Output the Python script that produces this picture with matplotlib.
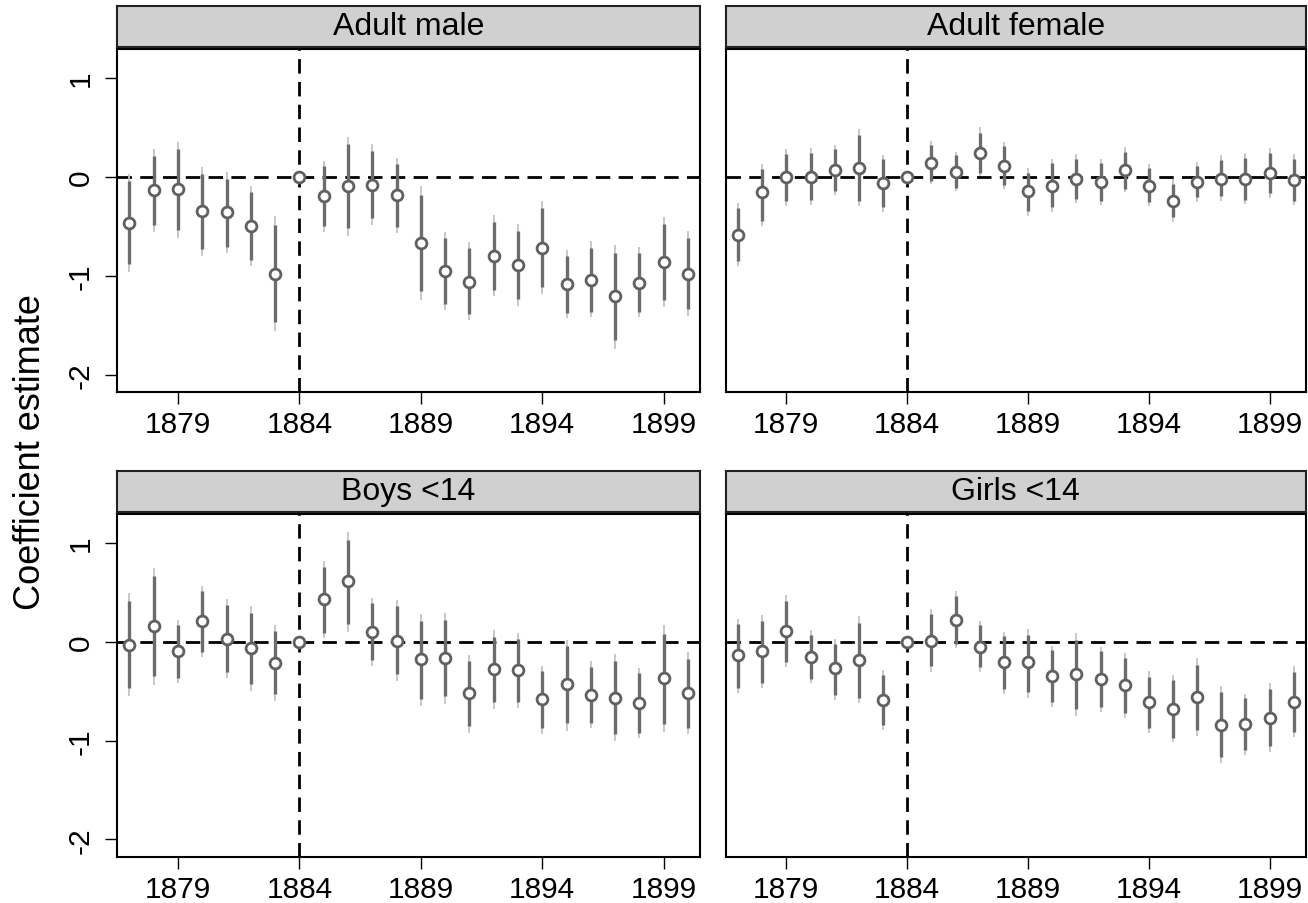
import numpy as np
import matplotlib
matplotlib.use("Agg")
import matplotlib.pyplot as plt

plt.rcParams['font.family'] = ['Liberation Sans', 'DejaVu Sans']
plt.rcParams['axes.unicode_minus'] = False

years = list(range(1877, 1901))
nan = np.nan

# point estimates, thick band (inner CI) and thin band (outer CI); 1884 is the base year
male_est = [-0.47, -0.14, -0.13, -0.35, -0.36, -0.50, -0.98, 0.0, -0.20, -0.09, -0.08, -0.19,
            -0.67, -0.95, -1.06, -0.80, -0.89, -0.72, -1.09, -1.04, -1.21, -1.07, -0.86, -0.98]
male_lo = [-0.88, -0.49, -0.54, -0.73, -0.71, -0.84, -1.47, nan, -0.50, -0.52, -0.42, -0.51,
           -1.16, -1.29, -1.39, -1.15, -1.24, -1.12, -1.38, -1.37, -1.65, -1.37, -1.25, -1.34]
male_hi = [-0.04, 0.21, 0.28, 0.03, -0.02, -0.16, -0.49, nan, 0.11, 0.33, 0.26, 0.13,
           -0.19, -0.62, -0.72, -0.46, -0.55, -0.32, -0.80, -0.72, -0.77, -0.77, -0.48, -0.62]
male_lo95 = [-0.96, -0.56, -0.62, -0.80, -0.77, -0.90, -1.56, nan, -0.56, -0.60, -0.49, -0.57,
             -1.25, -1.35, -1.45, -1.21, -1.31, -1.19, -1.43, -1.42, -1.74, -1.42, -1.32, -1.41]
male_hi95 = [0.03, 0.28, 0.35, 0.10, 0.05, -0.09, -0.40, nan, 0.16, 0.40, 0.33, 0.19,
             -0.09, -0.56, -0.66, -0.39, -0.48, -0.25, -0.74, -0.65, -0.69, -0.71, -0.41, -0.55]

female_est = [-0.59, -0.16, 0.00, 0.00, 0.07, 0.09, -0.06, 0.0, 0.14, 0.05, 0.24, 0.11,
              -0.15, -0.09, -0.02, -0.05, 0.07, -0.09, -0.25, -0.05, -0.02, -0.02, 0.04, -0.03]
female_lo = [-0.85, -0.45, -0.25, -0.24, -0.15, -0.25, -0.31, nan, -0.04, -0.11, 0.04, -0.08,
             -0.35, -0.31, -0.23, -0.25, -0.12, -0.26, -0.41, -0.21, -0.20, -0.24, -0.17, -0.25]
female_hi = [-0.32, 0.08, 0.23, 0.24, 0.28, 0.42, 0.18, nan, 0.32, 0.22, 0.44, 0.31,
             0.04, 0.14, 0.18, 0.14, 0.25, 0.09, -0.07, 0.11, 0.17, 0.19, 0.24, 0.18]
female_lo95 = [-0.90, -0.50, -0.30, -0.29, -0.19, -0.30, -0.36, nan, -0.07, -0.15, 0.01, -0.13,
               -0.40, -0.36, -0.27, -0.29, -0.16, -0.30, -0.46, -0.26, -0.25, -0.28, -0.22, -0.29]
female_hi95 = [-0.27, 0.13, 0.28, 0.29, 0.32, 0.48, 0.22, nan, 0.36, 0.25, 0.50, 0.35,
               0.09, 0.18, 0.23, 0.18, 0.30, 0.13, -0.02, 0.15, 0.22, 0.24, 0.29, 0.23]

boys_est = [-0.03, 0.16, -0.10, 0.21, 0.03, -0.07, -0.22, 0.0, 0.43, 0.61, 0.10, 0.01,
            -0.18, -0.17, -0.52, -0.28, -0.29, -0.58, -0.43, -0.54, -0.57, -0.62, -0.37, -0.52]
boys_lo = [-0.47, -0.35, -0.37, -0.11, -0.31, -0.43, -0.53, nan, 0.09, 0.18, -0.19, -0.33,
           -0.58, -0.55, -0.85, -0.61, -0.61, -0.87, -0.82, -0.82, -0.93, -0.92, -0.83, -0.87]
boys_hi = [0.41, 0.66, 0.17, 0.51, 0.37, 0.29, 0.11, nan, 0.75, 1.03, 0.39, 0.36,
           0.21, 0.22, -0.20, 0.05, 0.03, -0.30, -0.04, -0.26, -0.20, -0.32, 0.08, -0.18]
boys_lo95 = [-0.55, -0.44, -0.42, -0.16, -0.37, -0.50, -0.60, nan, 0.04, 0.10, -0.25, -0.40,
             -0.65, -0.63, -0.92, -0.68, -0.67, -0.93, -0.90, -0.87, -1.01, -0.97, -0.91, -0.93]
boys_hi95 = [0.49, 0.74, 0.22, 0.56, 0.43, 0.36, 0.17, nan, 0.81, 1.11, 0.44, 0.42,
             0.28, 0.29, -0.14, 0.12, 0.09, -0.25, 0.02, -0.20, -0.13, -0.27, 0.17, -0.11]

girls_est = [-0.14, -0.10, 0.11, -0.16, -0.27, -0.19, -0.59, 0.0, 0.01, 0.22, -0.05, -0.21,
             -0.21, -0.35, -0.33, -0.38, -0.44, -0.61, -0.68, -0.56, -0.84, -0.83, -0.77, -0.61]
girls_lo = [-0.47, -0.42, -0.21, -0.38, -0.54, -0.57, -0.84, nan, -0.25, -0.02, -0.26, -0.48,
            -0.51, -0.61, -0.68, -0.66, -0.72, -0.87, -0.97, -0.89, -1.17, -1.10, -1.06, -0.91]
girls_hi = [0.18, 0.21, 0.41, 0.07, -0.02, 0.19, -0.34, nan, 0.28, 0.46, 0.17, 0.06,
            0.07, -0.09, 0.02, -0.10, -0.17, -0.36, -0.39, -0.24, -0.51, -0.57, -0.48, -0.31]
girls_lo95 = [-0.52, -0.47, -0.26, -0.42, -0.59, -0.62, -0.89, nan, -0.31, -0.07, -0.31, -0.53,
              -0.57, -0.66, -0.75, -0.71, -0.77, -0.92, -1.02, -0.95, -1.23, -1.15, -1.12, -0.96]
girls_hi95 = [0.23, 0.27, 0.47, 0.12, 0.03, 0.26, -0.29, nan, 0.33, 0.51, 0.21, 0.10,
              0.13, -0.04, 0.09, -0.05, -0.12, -0.30, -0.34, -0.17, -0.45, -0.53, -0.42, -0.25]

panels = [
    ("Adult male", male_est, male_lo, male_hi, male_lo95, male_hi95),
    ("Adult female", female_est, female_lo, female_hi, female_lo95, female_hi95),
    ("Boys <14", boys_est, boys_lo, boys_hi, boys_lo95, boys_hi95),
    ("Girls <14", girls_est, girls_lo, girls_hi, girls_lo95, girls_hi95),
]

xticks = [1879, 1884, 1889, 1894, 1899]
yticks = [-2, -1, 0, 1]
ytick_labels = ["-2", "-1", "0", "1"]

fig = plt.figure(figsize=(13.08, 9.04), dpi=100)

# [left, bottom, width, height] for each panel and its strip
lefts = [0.0897, 0.5550, 0.0897, 0.5550]
widths = [0.4455, 0.4434, 0.4455, 0.4434]
bottoms = [0.5649, 0.5649, 0.0506, 0.0506]
strip_bottoms = [0.9469, 0.9469, 0.4329, 0.4329]
ph = 0.3798
sh = 0.0454

dash = (0, (5.2, 3.0))

for i, (title, est, lo, hi, lo95, hi95) in enumerate(panels):
    ax = fig.add_axes([lefts[i], bottoms[i], widths[i], ph])
    ax.axhline(0, color="black", lw=2.0, linestyle=dash, zorder=1)
    ax.axvline(1884, color="black", lw=2.0, linestyle=dash, zorder=1)
    ax.vlines(years, lo95, hi95, color="#c4c4c4", lw=1.3, zorder=2)
    ax.vlines(years, lo, hi, color="#6c6c6c", lw=2.4, zorder=2.5)
    ax.plot(years, est, "o", ms=7.8, mfc="white", mec="#606060", mew=2.0, zorder=3)

    ax.set_xlim(1876.5, 1900.5)
    ax.set_ylim(-2.18, 1.29)
    ax.set_xticks(xticks)
    ax.tick_params(axis="x", length=8.5, width=1.0, labelsize=21.5, pad=4)
    if i % 2 == 0:
        ax.set_yticks(yticks)
        ax.set_yticklabels(ytick_labels, rotation=90, va="center")
        ax.tick_params(axis="y", length=8.5, width=1.0, labelsize=21.5, pad=8)
    else:
        ax.set_yticks([])
    for s in ax.spines.values():
        s.set_linewidth(1.5)

    sax = fig.add_axes([lefts[i], strip_bottoms[i], widths[i], sh])
    sax.set_facecolor("#d0d0d0")
    sax.set_xticks([])
    sax.set_yticks([])
    for s in sax.spines.values():
        s.set_linewidth(1.5)
        s.set_color("#222222")
    sax.text(0.5, 0.5, title, ha="center", va="center", fontsize=23,
             transform=sax.transAxes)

fig.text(0.023, 0.5, "Coefficient estimate", rotation=90, ha="center", va="center",
         fontsize=26)

fig.savefig("out.png", dpi=100)
